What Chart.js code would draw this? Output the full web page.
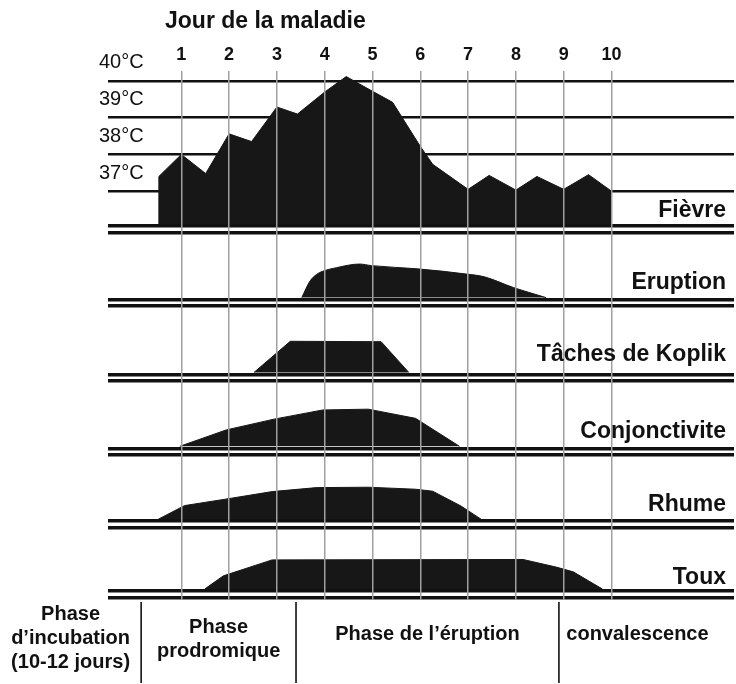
<!DOCTYPE html>
<html lang="fr">
<head>
<meta charset="utf-8">
<title>Rougeole - évolution des symptômes</title>
<script src="https://cdn.jsdelivr.net/npm/chart.js@4.4.1/dist/chart.umd.min.js"></script>
<style>
	html, body { margin: 0; padding: 0; background: #fff; }
	.container-canvas { position: relative; width: 736px; height: 684px; }
</style>
</head>
<body>
<div class="container-canvas"><canvas id="myChart"></canvas></div>
<script>
const dayTicks = [1, 2, 3, 4, 5, 6, 7, 8, 9, 10];
const tempTicks = [37, 38, 39, 40];
const FEVER_BASE = 36.1;

// fièvre : jour / température (°C)
const feverDays  = [0.53, 0.53, 1, 1.51, 2, 2.47, 3, 3.43, 4, 4.45, 5, 5.42, 6, 6.26, 7, 7.44, 8, 8.44, 9, 9.52, 10, 10];
const feverTemps = [36.1, 37.4, 38.0, 37.48, 38.56, 38.35, 39.29, 39.1, 39.7, 40.12, 39.72, 39.42, 38.22, 37.73, 37.05, 37.43, 37.03, 37.4, 37.05, 37.45, 37.0, 36.1];

// symptômes : intensité relative (0 = absent)
const eruptionDays = [3.52, 3.69, 3.83, 3.96, 4.25, 4.73, 4.98, 5.94, 6.96, 7.34, 7.95, 8.63];
const eruptionVals = [0, 41, 58, 66, 75, 84, 80, 72, 59, 52, 25, 0];
const koplikDays = [2.52, 3.28, 5.18, 5.76];
const koplikVals = [0, 78, 77, 0];
const conjDays = [0.97, 1.94, 2.94, 3.96, 4.91, 5.9, 6.82];
const conjVals = [0, 41, 68, 91, 93, 70, 0];
const rhumeDays = [0.52, 1.07, 1.92, 2.9, 3.83, 4.91, 5.9, 6.26, 6.85, 7.27];
const rhumeVals = [0, 34, 50, 69, 79, 80, 75, 70, 33, 0];
const touxDays = [1.49, 1.88, 2.9, 8.15, 8.84, 9.2, 9.81];
const touxVals = [0, 33, 73, 74, 55, 43, 0];

const bandNames = ['Fièvre', 'Eruption', 'Tâches de Koplik', 'Conjonctivite', 'Rhume', 'Toux'];
const phaseNames = [['Phase', 'd’incubation', '(10-12 jours)'], ['Phase', 'prodromique'], ['Phase de l’éruption'], ['convalescence']];
const phaseEnds = [0.16, 3.4, 8.9];

// ---- mise en page (px) ----
const FONT = '"Liberation Sans", Arial, sans-serif';
const INK = '#111';
const FILL = '#171717';
const LEFT = 108, RIGHT = 734, TOP = 70;
const DAY0 = 133.5, PX_PER_DAY = 47.8;
const LINE40 = 80, PX_PER_DEG = 36.8;
const PX_PER_UNIT = 0.4;
const slotBottoms = [234.5, 308, 383, 457, 530, 600];
const labelLift = [13.5, 14.5, 18, 14.5, 14, 11.5];
const phaseTop = [614, 627, 634, 634];

Chart.defaults.font.family = FONT;
Chart.defaults.color = INK;

const pts = (xs, ys) => xs.map((d, i) => ({ x: d, y: ys[i] }));

const scales = {
	x: {
		type: 'linear',
		position: 'top',
		min: (LEFT - DAY0) / PX_PER_DAY,
		max: (RIGHT - DAY0) / PX_PER_DAY,
		afterBuildTicks: s => { s.ticks = dayTicks.map(v => ({ value: v })); },
		grid: { color: '#a0a0a0', lineWidth: 1.5, z: 1, drawTicks: false },
		border: { display: false },
		ticks: { autoSkip: false, maxRotation: 0, padding: 5, color: INK, font: { size: 18, weight: 'bold' } }
	},
	yFever: {
		type: 'linear',
		position: 'left',
		stack: 'bands',
		stackWeight: slotBottoms[0] - TOP,
		weight: 6,
		min: 40 - (slotBottoms[0] - LINE40) / PX_PER_DEG,
		max: 40 + (LINE40 - TOP) / PX_PER_DEG,
		afterBuildTicks: s => {
			s.ticks = tempTicks.map(v => ({ value: v }))
				.concat([{ value: FEVER_BASE - 2 / PX_PER_DEG }, { value: FEVER_BASE - 8.5 / PX_PER_DEG }]);
		},
		grid: { color: INK, lineWidth: c => Number.isInteger(c.tick.value) ? 2.5 : 3.5, drawTicks: false },
		border: { display: false },
		ticks: { display: false }
	}
};

const bandIds = ['yFever', 'yEruption', 'yKoplik', 'yConj', 'yRhume', 'yToux'];
for (let i = 1; i < bandIds.length; i++) {
	const top = slotBottoms[i - 1];
	const base = slotBottoms[i] - 11;
	scales[bandIds[i]] = {
		type: 'linear',
		position: 'left',
		stack: 'bands',
		stackWeight: slotBottoms[i] - top,
		weight: 6 - i,
		min: -11 / PX_PER_UNIT,
		max: (base - top) / PX_PER_UNIT,
		afterBuildTicks: s => { s.ticks = [{ value: -2 / PX_PER_UNIT }, { value: -8.5 / PX_PER_UNIT }]; },
		grid: { color: INK, lineWidth: 3.5, drawTicks: false },
		border: { display: false },
		ticks: { display: false }
	};
}

const area = (label, xs, ys, axis, extra) => Object.assign({
	label: label,
	data: pts(xs, ys),
	yAxisID: axis,
	fill: 'origin',
	backgroundColor: FILL,
	borderColor: FILL,
	borderWidth: 1,
	pointRadius: 0,
	tension: 0
}, extra || {});

const textPlugin = {
	id: 'textPlugin',
	afterDraw(chart) {
		const ctx = chart.ctx;
		const x = chart.scales.x;
		const yF = chart.scales.yFever;
		ctx.save();
		ctx.fillStyle = INK;
		ctx.textBaseline = 'middle';

		ctx.font = 'bold 23px ' + FONT;
		ctx.textAlign = 'left';
		ctx.fillText('Jour de la maladie', 165, 22);

		// températures, au-dessus de leur ligne
		ctx.font = '20px ' + FONT;
		tempTicks.forEach(t => ctx.fillText(t + '°C', chart.chartArea.left - 9, yF.getPixelForValue(t) - 18));

		ctx.font = 'bold 23px ' + FONT;
		ctx.textAlign = 'right';
		bandIds.forEach((id, i) => {
			const base = chart.scales[id].getPixelForValue(i === 0 ? FEVER_BASE : 0);
			ctx.fillText(bandNames[i], chart.chartArea.right - 8, base - labelLift[i]);
		});

		const bounds = phaseEnds.map(d => x.getPixelForValue(d));
		const edges = [0].concat(bounds, [chart.width - 20]);
		ctx.strokeStyle = INK;
		ctx.lineWidth = 1.6;
		bounds.forEach(b => {
			ctx.beginPath();
			ctx.moveTo(b, 602);
			ctx.lineTo(b, 683);
			ctx.stroke();
		});
		ctx.font = 'bold 20px ' + FONT;
		ctx.textAlign = 'center';
		phaseNames.forEach((lines, i) => {
			const cx = (edges[i] + edges[i + 1]) / 2;
			lines.forEach((t, k) => ctx.fillText(t, cx, phaseTop[i] + k * 24));
		});
		ctx.restore();
	}
};

const ctx = document.getElementById('myChart');
const myChart = new Chart(ctx, {
	type: 'line',
	data: {
		datasets: [
			area('Fièvre', feverDays, feverTemps, 'yFever', { fill: { value: FEVER_BASE } }),
			area('Eruption', eruptionDays, eruptionVals, 'yEruption', { cubicInterpolationMode: 'monotone' }),
			area('Tâches de Koplik', koplikDays, koplikVals, 'yKoplik'),
			area('Conjonctivite', conjDays, conjVals, 'yConj'),
			area('Rhume', rhumeDays, rhumeVals, 'yRhume'),
			area('Toux', touxDays, touxVals, 'yToux')
		]
	},
	options: {
		responsive: true,
		maintainAspectRatio: false,
		animation: false,
		layout: { padding: { left: LEFT, right: 736 - RIGHT, top: 39.4, bottom: 684 - slotBottoms[5] } },
		plugins: { legend: { display: false }, tooltip: { enabled: false } },
		scales: scales
	},
	plugins: [textPlugin]
});
</script>
</body>
</html>
